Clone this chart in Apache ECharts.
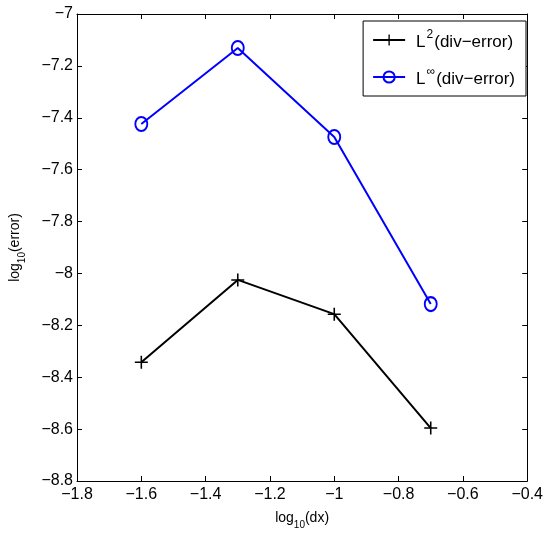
<!DOCTYPE html>
<html><head><meta charset="utf-8">
<script src="https://cdn.jsdelivr.net/npm/echarts@6/dist/echarts.min.js"></script>
<style>html,body{margin:0;padding:0;background:#fff}#c{width:546px;height:537px}</style>
</head><body><div id="c"></div>
<script>
const xValues = [-1.6, -1.3, -1.0, -0.7];
const l2Values = [-8.342, -8.025, -8.157, -8.596];
const linfValues = [-7.424, -7.131, -7.474, -8.118];
const seriesNames = ['L2', 'Linf'];

const FONT = '"Liberation Sans", Arial, Helvetica, sans-serif';
const fmt = v => String(Number(v.toFixed(1))).replace('-', '\u2212');
const plus = 'path://M4.4,0h1.2v4.4h4.4v1.2h-4.4v4.4h-1.2v-4.4h-4.4v-1.2h4.4z';

const chart = echarts.init(document.getElementById('c'), null, {renderer: 'canvas'});
const axisCommon = {
  axisLine: {show: true, onZero: false, lineStyle: {color: '#000', width: 1}},
  axisTick: {show: true, inside: true, length: 5, lineStyle: {color: '#000'}},
  splitLine: {show: false}
};
const nameRich = {
  a: {fontFamily: FONT, fontSize: 14, color: '#000', verticalAlign: 'top', lineHeight: 19},
  s: {fontFamily: FONT, fontSize: 10, color: '#000', verticalAlign: 'bottom', lineHeight: 19}
};
chart.setOption({
  animation: false,
  grid: {left: 74, top: 14, right: 13, bottom: 56},
  legend: {
    orient: 'vertical', right: 20, top: 21,
    padding: [8, 11, 8, 9], itemGap: 15,
    itemWidth: 32, itemHeight: 14,
    borderColor: '#000', borderWidth: 1, borderRadius: 0, backgroundColor: '#fff',
    data: seriesNames,
    formatter: n => n === 'L2' ? '{l|L}{s|2}{a|(div\u2212error)}' : '{l|L}{s|\u221e}{a|(div\u2212error)}',
    textStyle: {
      fontFamily: FONT, fontSize: 17, color: '#000',
      rich: {
        l: {fontFamily: FONT, fontSize: 17, color: '#000', verticalAlign: 'bottom', lineHeight: 22, padding: [0, 0, 0, 6]},
        a: {fontFamily: FONT, fontSize: 17, color: '#000', verticalAlign: 'bottom', lineHeight: 22},
        s: {fontFamily: FONT, fontSize: 12, color: '#000', verticalAlign: 'top', lineHeight: 22, padding: [0, 1, 0, 1]}
      }
    }
  },
  xAxis: [{
    type: 'value', min: -1.8, max: -0.4, interval: 0.2, position: 'bottom',
    ...axisCommon,
    axisLabel: {formatter: fmt, fontFamily: FONT, fontSize: 16, color: '#000', margin: 6},
    name: '{a|log}{s|10}{a|(dx)}', nameLocation: 'middle', nameGap: 30,
    nameTextStyle: {rich: nameRich}
  }, {
    type: 'value', min: -1.8, max: -0.4, interval: 0.2, position: 'top',
    ...axisCommon, axisLabel: {show: false}
  }],
  yAxis: [{
    type: 'value', min: -8.8, max: -7, interval: 0.2, position: 'left',
    ...axisCommon,
    axisLabel: {formatter: fmt, fontFamily: FONT, fontSize: 16, color: '#000', margin: 4},
    name: '{a|log}{s|10}{a|(error)}', nameLocation: 'middle', nameGap: 50, nameRotate: 90,
    nameTextStyle: {rich: nameRich}
  }, {
    type: 'value', min: -8.8, max: -7, interval: 0.2, position: 'right',
    ...axisCommon, axisLabel: {show: false}
  }],
  series: [{
    name: 'L2', type: 'line',
    data: xValues.map((x, i) => [x, l2Values[i]]),
    lineStyle: {color: '#000', width: 2},
    itemStyle: {color: '#000'},
    symbol: plus, symbolSize: 13, showAllSymbol: true
  }, {
    name: 'Linf', type: 'line',
    data: xValues.map((x, i) => [x, linfValues[i]]),
    lineStyle: {color: '#0000ff', width: 2},
    itemStyle: {color: 'rgba(255,255,255,0)', borderColor: '#0000ff', borderWidth: 2},
    symbol: 'circle', symbolSize: [12, 14], showAllSymbol: true
  }]
});
</script></body></html>
